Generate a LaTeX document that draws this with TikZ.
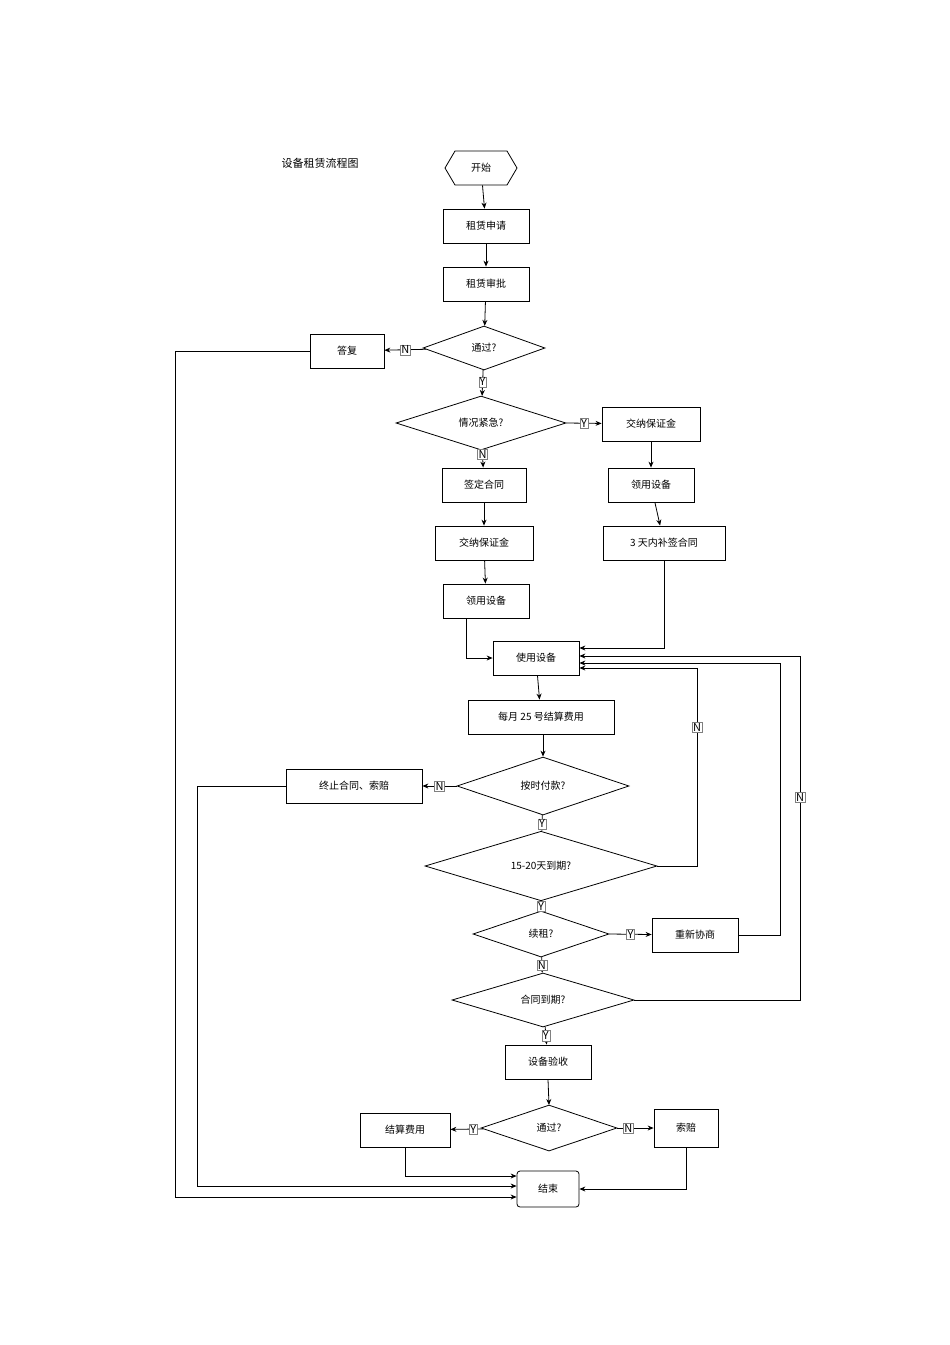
\documentclass[tikz,border=0pt]{standalone}
\usepackage{fontspec}
\setmainfont{Noto Sans CJK SC}
\usetikzlibrary{shapes.geometric,arrows.meta}
\tikzset{
  box/.style={draw, thick, rectangle, minimum height=34pt, inner sep=2pt, font=\fontsize{10}{12}\selectfont},
  dia/.style={draw, thick, diamond, inner sep=0pt, font=\fontsize{10}{12}\selectfont},
  lab/.style={draw=gray, thin, fill=white, inner sep=1pt, font=\fontsize{11}{12}\selectfont},
  >={Stealth[length=6pt,width=5pt]}
}
\begin{document}
\begin{tikzpicture}[x=1pt,y=-1pt,line width=0.8pt]
      \useasboundingbox (0,0) rectangle (950,1345);
      \node[font=\fontsize{11}{13}\selectfont] (title) at (320,163) {设备租赁流程图};
      \node[minimum width=72pt, minimum height=34pt, font=\fontsize{10}{12}\selectfont] (s) at (481,168) {开始};
      \draw[thick] (445,168) -- (455,151) -- (507,151) -- (517,168) -- (507,185) -- (455,185) -- cycle;
      \node[box, minimum width=86pt] (a1) at (486,226) {租赁申请};
      \node[box, minimum width=86pt] (a2) at (486,284) {租赁审批};
      \node[dia, minimum width=122pt, minimum height=44pt] (d1) at (484,348) {通过?};
      \node[box, minimum width=74pt] (r) at (347,351) {答复};
      \node[dia, minimum width=170pt, minimum height=44pt] (d2) at (481,423) {情况紧急?};
      \node[box, minimum width=98pt] (u1) at (651,424) {交纳保证金};
      \node[box, minimum width=86pt] (u2) at (651,485) {领用设备};
      \node[box, minimum width=122pt] (u3) at (664,543) {3 天内补签合同};
      \node[box, minimum width=84pt] (n1) at (484,485) {签定合同};
      \node[box, minimum width=98pt] (n2) at (484,543) {交纳保证金};
      \node[box, minimum width=86pt] (n3) at (486,601) {领用设备};
      \node[box, minimum width=86pt] (use) at (536,658) {使用设备};
      \node[box, minimum width=146pt] (pay) at (541,717) {每月 25 号结算费用};
      \node[dia, minimum width=172pt, minimum height=58pt] (d3) at (543,786) {按时付款?};
      \node[box, minimum width=136pt] (stop) at (354,786) {终止合同、索赔};
      \node[dia, minimum width=232pt, minimum height=46pt] (d4) at (541,866) {15-20天到期?};
      \node[dia, minimum width=136pt, minimum height=46pt] (d5) at (541,934) {续租?};
      \node[box, minimum width=86pt] (neg) at (695,935) {重新协商};
      \node[dia, minimum width=182pt, minimum height=46pt] (d6) at (543,1000) {合同到期?};
      \node[box, minimum width=86pt] (chk) at (548,1062) {设备验收};
      \node[dia, minimum width=136pt, minimum height=46pt] (d7) at (549,1128) {通过?};
      \node[box, minimum width=90pt] (set) at (405,1130) {结算费用};
      \node[box, minimum width=64pt, minimum height=38pt] (cl) at (686,1128) {索赔};
      \node[box, rounded corners=3pt, minimum width=62pt, minimum height=36pt] (end) at (548,1189) {结束};
      \draw[->] (s) to (a1);
      \draw[->] (a1) to (a2);
      \draw[->] (a2) to (d1);
      \draw[->] (d1) to node[lab] {N} (r);
      \draw[->] (d1) to node[lab, pos=0.45] {Y} (d2);
      \draw[->] (d2.east) to node[lab] {Y} (u1);
      \draw[->] (d2) to node[lab, pos=0.25] {N} (n1);
      \draw[->] (u1) to (u2);
      \draw[->] (u2) to (u3);
      \draw[->] (n1) to (n2);
      \draw[->] (n2) to (n3);
      \draw[->] (n3.south -| 466,0) |- (use.west);
      \draw[->] (u3.south) |- (use.east |- 0,648);
      \draw[->] (use) to (pay);
      \draw[->] (pay.south -| d3) to (d3);
      \draw[->] (d3) to node[lab] {N} (stop);
      \draw[->] (d3) to node[lab, pos=0.55] {Y} (d4);
      \draw[->] (d4.east) -- (697,866) to node[lab, pos=0.7] {N} (697,668) -- (use.east |- 0,668);
      \draw[->] (d4) to node[lab, pos=0.55] {Y} (d5);
      \draw[->] (d5.east) to node[lab, pos=0.5] {Y} (neg);
      \draw[->] (neg.east) -- (780,935) -- (780,663) -- (use.east |- 0,663);
      \draw[->] (d5) to node[lab, pos=0.5] {N} (d6);
      \draw[->] (d6.east) -- (800,1000) to node[lab, pos=0.59] {N} (800,656) -- (use.east |- 0,656);
      \draw[->] (d6) to node[lab, pos=0.5] {Y} (chk);
      \draw[->] (chk.south) -- (549,1105);
      \draw[->] (d7) to node[lab, pos=0.3] {Y} (set);
      \draw[->] (d7) to node[lab, pos=0.3] {N} (cl);
      \draw[->] (r.west) -- (175,351) -- (175,1197) -- (end.west |- 0,1197);
      \draw[->] (stop.west) -- (197,786) -- (197,1186) -- (end.west |- 0,1186);
      \draw[->] (set.south) -- (405,1176) -- (end.west |- 0,1176);
      \draw[->] (cl.south) |- (end.east);
    \end{tikzpicture}
\end{document}
